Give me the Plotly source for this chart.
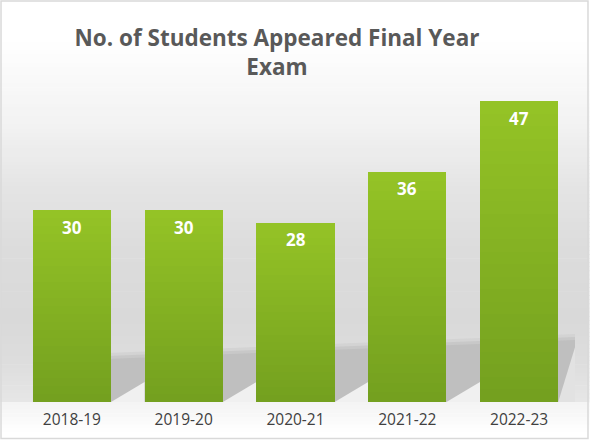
import plotly.graph_objects as go

# ---- data ----
years = ["2018-19", "2019-20", "2020-21", "2021-22", "2022-23"]
students = [30, 30, 28, 36, 47]
title_text = "No. of Students Appeared Final Year<br>Exam"

# ---- layout constants (pixels) ----
W, H = 590, 441
L, R = 16, 575.5          # plot area left/right px
T, B = 82, 402            # plot area top/bottom px
YMAX = 50

def px(x):
    return (x - L) / (R - L)

def py(y):
    return (B - y) / (B - T)

def hex2rgb(h):
    h = h.lstrip('#')
    return tuple(int(h[i:i + 2], 16) for i in (0, 2, 4))

def mix(c1, c2, t):
    a, b = hex2rgb(c1), hex2rgb(c2)
    return "rgb(%d,%d,%d)" % tuple(round(a[i] + (b[i] - a[i]) * t) for i in range(3))

BAR_TOP = "#94c326"
BAR_BOTTOM = "#74a01f"
N_SLICES = 24

fig = go.Figure()
for k in range(N_SLICES):
    t = k / (N_SLICES - 1)
    fig.add_trace(go.Bar(
        x=years,
        y=[v / N_SLICES for v in students],
        marker=dict(color=mix(BAR_BOTTOM, BAR_TOP, t), line=dict(width=0)),
        hoverinfo="skip",
        showlegend=False,
    ))

# data labels
for yr, v in zip(years, students):
    fig.add_annotation(x=yr, y=v, text="<b>%d</b>" % v, showarrow=False,
                       yshift=-17, yanchor="middle",
                       font=dict(family="Open Sans", size=17, color="white"))

shapes = []
# wall gradient (background) bands
stops = [(0, "#ffffff"), (38, "#ffffff"), (120, "#f3f3f3"), (190, "#e4e4e4"),
         (250, "#dcdcdc"), (320, "#d9d9d9"), (360, "#dddddd"), (402, "#e6e6e6")]
for (y0, c0), (y1, c1) in zip(stops[:-1], stops[1:]):
    steps = max(1, int((y1 - y0) / 4))
    for s in range(steps):
        ya = y0 + (y1 - y0) * s / steps
        yb = y0 + (y1 - y0) * (s + 1) / steps
        shapes.append(dict(type="rect", xref="paper", yref="paper", layer="below",
                           x0=px(0), x1=px(W), y0=py(ya), y1=py(yb + 0.6),
                           fillcolor=mix(c0, c1, (s + 0.5) / steps), line=dict(width=0)))
# floor below plot
for s in range(8):
    ya = 402 + 30 * s / 8
    yb = 402 + 30 * (s + 1) / 8
    shapes.append(dict(type="rect", xref="paper", yref="paper", layer="below",
                       x0=px(0), x1=px(W), y0=py(ya), y1=py(yb + 0.6),
                       fillcolor=mix("#f3f3f3", "#ffffff", (s + 0.5) / 8), line=dict(width=0)))
shapes.append(dict(type="rect", xref="paper", yref="paper", layer="below",
                   x0=px(0), x1=px(W), y0=py(432), y1=py(H),
                   fillcolor="#ffffff", line=dict(width=0)))

# floor shadow band (soft top edge)
def band(top_l, top_r, color, x_start):
    return dict(type="path", xref="paper", yref="paper", layer="below",
                path="M %f,%f L %f,%f L %f,%f L %f,%f Z" % (
                    px(x_start), py(B), px(x_start), py(top_l),
                    px(R), py(top_r), px(R), py(B)),
                fillcolor=color, line=dict(width=0))

shapes.append(band(356, 334, "#d3d3d3", 33))
shapes.append(band(359, 337, "#c8c8c8", 33))
shapes.append(band(362, 340, "#bfbfbf", 33))

# lit triangles in the gaps (edges of each bar's cast shadow)
unit = (B - T) / YMAX
gap_h = 20 / unit
for i in range(len(years) - 1):
    shapes.append(dict(type="path", xref="x", yref="y", layer="below",
                       path="M %f,0 L %f,0 L %f,%f Z" % (i + 0.35, i + 0.65, i + 0.65, gap_h),
                       fillcolor="#f0f0f0", line=dict(width=0)))
last = len(years) - 1
shapes.append(dict(type="path", xref="x", yref="y", layer="below",
                   path="M %f,0 L %f,0 L %f,%f Z" % (last + 0.35, last + 0.52, last + 0.52, 62 / unit),
                   fillcolor="#e2e2e2", line=dict(width=0)))

# outer border
shapes.append(dict(type="rect", xref="paper", yref="paper", layer="above",
                   x0=px(1), x1=px(588.5), y0=py(1), y1=py(438.5),
                   line=dict(color="#d9d9d9", width=1.5), fillcolor="rgba(0,0,0,0)"))

fig.update_layout(
    width=W, height=H,
    margin=dict(l=L, r=W - R, t=T, b=H - B, pad=0),
    paper_bgcolor="#ffffff",
    plot_bgcolor="rgba(0,0,0,0)",
    barmode="stack",
    bargap=0.3,
    showlegend=False,
    shapes=shapes,
    title=dict(text=title_text, xref="container", yref="container",
               x=277 / W, xanchor="center", y=1 - 46 / H, yanchor="top",
               font=dict(family="Open Sans", size=22.5, color="#595959", weight="bold")),
    xaxis=dict(range=[-0.5, 4.5], showgrid=False, zeroline=False, showline=False,
               ticks="", ticklabelstandoff=6,
               tickfont=dict(family="Open Sans", size=15.5, color="#404040"),
               fixedrange=True),
    yaxis=dict(range=[0, YMAX], visible=False, showgrid=False, zeroline=False, fixedrange=True),
    hovermode=False,
)

fig.write_html("out.html", config=dict(displayModeBar=False),
               post_script="document.body.style.margin='0';")
